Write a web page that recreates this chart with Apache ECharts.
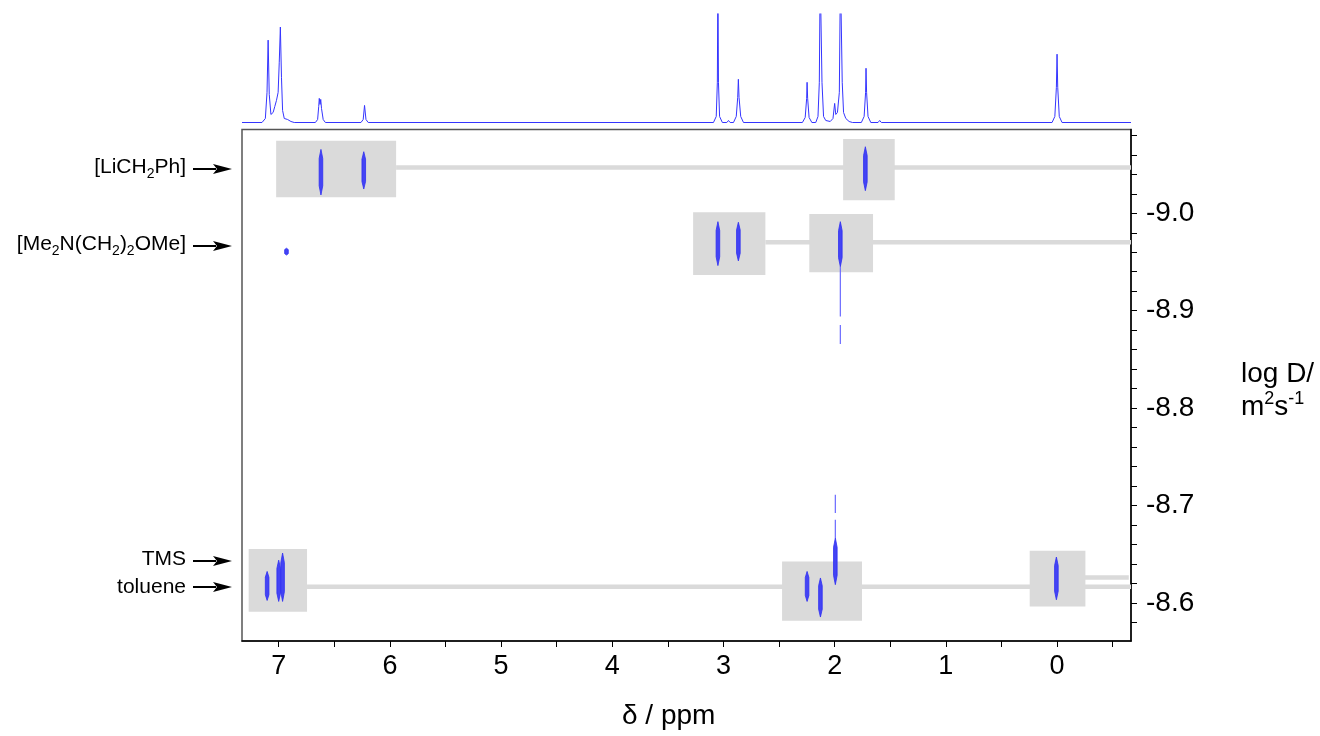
<!DOCTYPE html>
<html>
<head>
    <meta charset="UTF-8">
    <title>DOSY</title>
    <script src="https://cdn.jsdelivr.net/npm/echarts@6/dist/echarts.min.js"></script>
    <style>
        html, body {margin: 0; padding: 0; background: #fff;}
        #main {width: 1320px; height: 736px;}
    </style>
</head>
<body>
<div id="main"></div>
<script type="text/javascript">

    // 1H spectrum on top: [ppm, intensity]
    var spectrum = [
        [7.33, 0], [7.15, 0], [7.12, 4], [7.105, 30], [7.095, 82], [7.085, 28], [7.07, 8], [7.05, 10],
        [7.035, 16], [7.02, 22], [7.005, 30], [6.995, 60], [6.985, 95], [6.975, 45], [6.965, 12],
        [6.95, 4], [6.92, 3], [6.89, 1], [6.86, 0],
        [6.67, 0], [6.65, 3], [6.64, 16], [6.635, 24], [6.628, 18], [6.622, 23], [6.615, 14], [6.60, 3], [6.58, 0],
        [6.26, 0], [6.24, 3], [6.228, 17], [6.215, 3], [6.195, 0],
        [3.09, 0], [3.065, 6], [3.055, 40], [3.05, 150], [3.045, 40], [3.035, 6], [3.01, 0],
        [2.97, 0], [2.955, 2], [2.94, 0],
        [2.91, 0], [2.885, 6], [2.872, 25], [2.866, 43], [2.86, 25], [2.845, 6], [2.82, 0],
        [2.29, 0], [2.265, 5], [2.252, 24], [2.248, 40], [2.243, 24], [2.23, 5], [2.205, 0],
        [2.17, 0], [2.15, 6], [2.138, 40], [2.13, 150], [2.122, 150], [2.114, 40], [2.10, 6], [2.08, 2],
        [2.04, 1], [2.015, 4], [2.0, 19], [1.99, 8], [1.975, 10], [1.958, 30], [1.948, 150], [1.94, 150],
        [1.932, 40], [1.92, 10], [1.9, 4], [1.87, 1], [1.84, 0],
        [1.76, 0], [1.735, 6], [1.722, 30], [1.718, 54], [1.713, 30], [1.70, 6], [1.675, 0],
        [1.61, 0], [1.595, 2], [1.58, 0],
        [0.045, 0], [0.02, 6], [0.006, 35], [0.0, 68], [-0.006, 35], [-0.02, 6], [-0.045, 0], [-0.665, 0]
    ];

    var xTicks = [7, 6.5, 6, 5.5, 5, 4.5, 4, 3.5, 3, 2.5, 2, 1.5, 1, 0.5, 0, -0.5];
    var xLabels = [7, 6, 5, 4, 3, 2, 1, 0];
    var yTicks = [-9.08, -9.06, -9.04, -9.02, -9.0, -8.98, -8.96, -8.94, -8.92, -8.9, -8.88, -8.86, -8.84,
        -8.82, -8.8, -8.78, -8.76, -8.74, -8.72, -8.7, -8.68, -8.66, -8.64, -8.62, -8.6, -8.58];
    var yLabels = [-9.0, -8.9, -8.8, -8.7, -8.6];

    // grey boxes: [ppm from, ppm to, logD from, logD to]
    var boxes = [
        [7.023, 5.944, -9.0745, -9.0164],
        [1.924, 1.460, -9.0762, -9.0134],
        [3.273, 2.623, -9.001, -8.9367],
        [2.228, 1.655, -8.9993, -8.9395],
        [7.27, 6.745, -8.6554, -8.591],
        [2.473, 1.754, -8.6427, -8.5818],
        [0.246, -0.255, -8.6536, -8.5965]
    ];

    // diffusion traces: [ppm from, ppm to, logD]
    var traces = [
        [5.944, -0.665, -9.047],
        [2.623, -0.665, -8.9703],
        [6.745, -0.665, -8.6168],
        [0.0, -0.645, -8.6263]
    ];

    // cross peaks: [ppm, logD top, logD bottom]
    var peaks = [
        [6.62, -9.0656, -9.0188],
        [6.235, -9.0632, -9.0249],
        [1.724, -9.0683, -9.0232],
        [3.05, -8.9914, -8.9463],
        [2.866, -8.9908, -8.9511],
        [1.949, -8.9914, -8.9452],
        [6.93, -8.9641, -8.9572],
        [7.104, -8.6324, -8.6026],
        [7.0, -8.6440, -8.6016],
        [6.965, -8.6513, -8.6016],
        [2.248, -8.6324, -8.6016],
        [2.128, -8.6257, -8.5856],
        [1.994, -8.6667, -8.6188],
        [0.006, -8.6472, -8.6033]
    ];

    // faint streaks: [ppm, logD top, logD bottom]
    var tails = [
        [1.949, -8.9452, -8.894],
        [1.949, -8.8854, -8.8659],
        [1.994, -8.6854, -8.6667],
        [1.994, -8.7111, -8.6924]
    ];

    var blue = '#2f2ff2';
    var grey = '#dadada';

    function arrowGraphic(y) {
        return {
            type: 'group',
            children: [
                {type: 'line', shape: {x1: 193, y1: y, x2: 216, y2: y}, style: {stroke: '#000', lineWidth: 2}},
                {type: 'polygon', shape: {points: [[213, y - 5], [232, y], [213, y + 5], [217, y]]}, style: {fill: '#000'}}
            ]
        };
    }

    function labelGraphic(text, y) {
        return {
            type: 'text',
            right: 1320 - 186,
            top: y - 12,
            style: {
                text: text,
                rich: {
                    t: {fontSize: 21, fontFamily: 'Liberation Sans', fill: '#000', lineHeight: 28},
                    s: {fontSize: 14, fontFamily: 'Liberation Sans', fill: '#000', lineHeight: 16, verticalAlign: 'bottom'}
                }
            }
        };
    }

    var myChart = echarts.init(document.getElementById('main'));

    myChart.setOption({
        animation: false,
        backgroundColor: '#fff',
        grid: [
            {left: 242, right: 189, top: 14, height: 108.5},
            {left: 242, right: 189, top: 129.5, bottom: 95, show: true, borderColor: '#555', borderWidth: 1.5}
        ],
        xAxis: [
            {gridIndex: 0, type: 'value', min: -0.665, max: 7.33, inverse: true, show: false},
            {
                gridIndex: 1, type: 'value', min: -0.665, max: 7.33, inverse: true,
                axisLine: {onZero: false, lineStyle: {color: '#000', width: 1.5}},
                axisTick: {customValues: xTicks, length: 6, lineStyle: {color: '#000', width: 1}},
                axisLabel: {customValues: xLabels, margin: 12, fontSize: 27, color: '#000', fontFamily: 'Liberation Sans'},
                splitLine: {show: false}
            }
        ],
        yAxis: [
            {gridIndex: 0, type: 'value', min: 0, max: 108, show: false},
            {
                gridIndex: 1, type: 'value', position: 'right', min: -9.086, max: -8.561, inverse: true,
                axisLine: {show: true, onZero: false, lineStyle: {color: '#000', width: 1.5}},
                axisTick: {show: true, customValues: yTicks, length: 6, lineStyle: {color: '#000', width: 1}},
                axisLabel: {
                    customValues: yLabels, margin: 15, fontSize: 28, color: '#000', fontFamily: 'Liberation Sans',
                    formatter: function (v) { return v.toFixed(1); }
                },
                splitLine: {show: false}
            }
        ],
        graphic: [
            arrowGraphic(169), arrowGraphic(246), arrowGraphic(561), arrowGraphic(587),
            labelGraphic('{t|[LiCH}{s|2}{t|Ph]}', 169),
            labelGraphic('{t|[Me}{s|2}{t|N(CH}{s|2}{t|)}{s|2}{t|OMe]}', 246),
            labelGraphic('{t|TMS}', 561),
            labelGraphic('{t|toluene}', 589),
            {
                type: 'text', left: 1241, top: 360,
                style: {
                    text: '{t|log D/}\n{t|m}{p|2}{t|s}{p|-1}',
                    rich: {
                        t: {fontSize: 28, fontFamily: 'Liberation Sans', fill: '#000', lineHeight: 33},
                        p: {fontSize: 18, fontFamily: 'Liberation Sans', fill: '#000', lineHeight: 20, verticalAlign: 'top'}
                    }
                }
            },
            {
                type: 'text', left: 622, top: 702,
                style: {text: 'δ / ppm', fontSize: 28, fontFamily: 'Liberation Sans', fill: '#000'}
            }
        ],
        series: [
            {
                type: 'line', xAxisIndex: 0, yAxisIndex: 0, data: spectrum, showSymbol: false, clip: true,
                lineStyle: {color: '#3535ff', width: 1}
            },
            {
                type: 'custom', xAxisIndex: 1, yAxisIndex: 1, data: traces, z: 2,
                encode: {x: [0, 1], y: 2},
                renderItem: function (params, api) {
                    var a = api.coord([api.value(0), api.value(2)]);
                    var b = api.coord([api.value(1), api.value(2)]);
                    return {type: 'line', shape: {x1: a[0], y1: a[1], x2: b[0], y2: b[1]}, style: {stroke: grey, lineWidth: 4.5}};
                }
            },
            {
                type: 'custom', xAxisIndex: 1, yAxisIndex: 1, data: boxes, z: 3,
                encode: {x: [0, 1], y: [2, 3]},
                renderItem: function (params, api) {
                    var a = api.coord([api.value(0), api.value(2)]);
                    var b = api.coord([api.value(1), api.value(3)]);
                    return {
                        type: 'rect',
                        shape: {x: Math.min(a[0], b[0]), y: Math.min(a[1], b[1]), width: Math.abs(b[0] - a[0]), height: Math.abs(b[1] - a[1])},
                        style: {fill: grey}
                    };
                }
            },
            {
                type: 'custom', xAxisIndex: 1, yAxisIndex: 1, data: tails, z: 4,
                encode: {x: 0, y: [1, 2]},
                renderItem: function (params, api) {
                    var a = api.coord([api.value(0), api.value(1)]);
                    var b = api.coord([api.value(0), api.value(2)]);
                    return {type: 'line', shape: {x1: a[0], y1: a[1], x2: b[0], y2: b[1]}, style: {stroke: '#6a6aff', lineWidth: 1.2}};
                }
            },
            {
                type: 'custom', xAxisIndex: 1, yAxisIndex: 1, data: peaks, z: 5,
                encode: {x: 0, y: [1, 2]},
                renderItem: function (params, api) {
                    var a = api.coord([api.value(0), api.value(1)]);
                    var b = api.coord([api.value(0), api.value(2)]);
                    var m = (a[1] + b[1]) / 2;
                    var w = 1.8;
                    return {
                        type: 'polygon',
                        shape: {points: [[a[0], a[1]], [a[0] + w, a[1] + (m - a[1]) * 0.4], [a[0] + w, m + (b[1] - m) * 0.6], [b[0], b[1]],
                            [b[0] - w, m + (b[1] - m) * 0.6], [a[0] - w, a[1] + (m - a[1]) * 0.4]]},
                        style: {fill: '#4444f4', stroke: blue, lineWidth: 0.8}
                    };
                }
            }
        ]
    });

</script>
</body>
</html>
